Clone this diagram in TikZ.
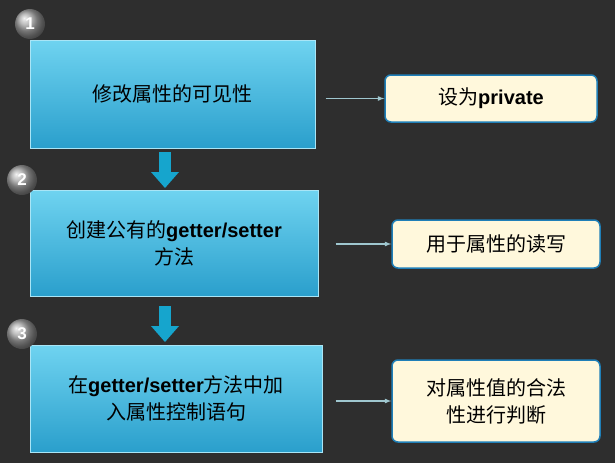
\documentclass[tikz,border=0pt]{standalone}
\usepackage{fontspec}
\setmainfont{Noto Sans CJK SC}
\newfontfamily\lat{Liberation Sans}
\usetikzlibrary{shadings,calc}
\definecolor{bg}{HTML}{2E2E2E}
\definecolor{bluetop}{HTML}{6FD3F0}
\definecolor{bluebot}{HTML}{2A9FCC}
\definecolor{cream}{HTML}{FFF8DC}
\definecolor{bord}{HTML}{1F7FB8}
\definecolor{arr}{HTML}{9FC7CF}
\begin{document}
\begin{tikzpicture}[x=1pt,y=-1pt,
 bluebox/.style={draw=bluetop!60!white,line width=1pt,top color=bluetop,bottom color=bluebot,align=center,font=\fontsize{20}{27}\selectfont,text=black},
 note/.style={draw=bord,line width=1.5pt,fill=cream,rounded corners=6pt,align=center,font=\fontsize{20}{27}\selectfont},
 num/.style={circle,minimum size=30pt,inner sep=0pt,ball color=gray!70,text=white,font=\lat\bfseries\fontsize{17}{17}\selectfont},
 thin/.style={draw=arr,line width=1.2pt,-latex},
 down/.style={fill=bord!70!cyan}]
\fill[bg] (0,0) rectangle (615,463);
\useasboundingbox (0,0) rectangle (615,463);
\node[bluebox,minimum width=285pt,minimum height=108pt] (b1) at (172.5,94) {修改属性的可见性};
\node[bluebox,minimum width=288pt,minimum height=106pt] (b2) at (174,243) {创建公有的{\lat\bfseries getter/setter}\\方法};
\node[bluebox,minimum width=292pt,minimum height=107pt] (b3) at (176,398.5) {在{\lat\bfseries getter/setter}方法中加\\入属性控制语句};
\node[num] (n1) at (30,24) {1};
\node[num] (n2) at (22,180) {2};
\node[num] (n3) at (22,334) {3};
\node[note,minimum width=212pt,minimum height=47pt] (r1) at (491,98.5) {设为{\lat\bfseries private}};
\node[note,minimum width=208pt,minimum height=48pt] (r2) at (496,244) {用于属性的读写};
\node[note,minimum width=208pt,minimum height=82pt] (r3) at (496,401) {对属性值的合法\\性进行判断};
\draw[thin] ([xshift=10pt]b1.east |- r1.west) -- (r1.west);
\draw[thin] ([xshift=17pt]b2.east |- r2.west) -- (r2.west);
\draw[thin] ([xshift=13pt]b3.east |- r3.west) -- (r3.west);
\coordinate (d1) at (165,152);
\coordinate (d2) at (165,306);
\foreach \d in {d1,d2}{
 \fill[down] ($(\d)+(-6,0)$) rectangle ($(\d)+(6,22)$);
 \fill[down] ($(\d)+(-14,20)$) -- ($(\d)+(14,20)$) -- ($(\d)+(0,36)$) -- cycle;}
\end{tikzpicture}
\end{document}
